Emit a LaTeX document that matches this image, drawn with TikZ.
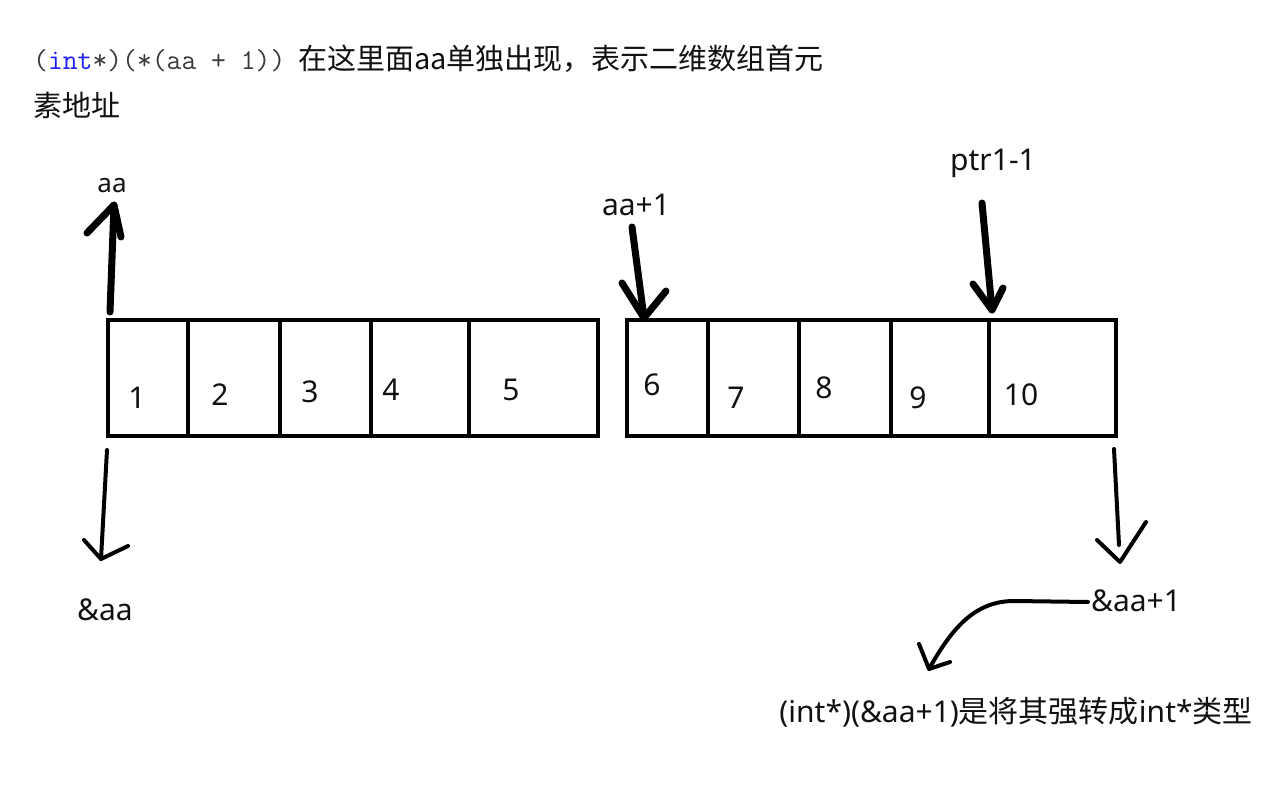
\documentclass[tikz,border=0pt]{standalone}
\usepackage{fontspec}
\setmainfont{Noto Sans}
\newfontfamily\cjk{Noto Sans CJK SC}
\definecolor{codegray}{HTML}{3A3A3A}
\definecolor{codeblue}{HTML}{2020FF}
\definecolor{ink}{HTML}{111111}
\begin{document}
\begin{tikzpicture}[x=1pt,y=-1pt,
  lbl/.style={inner sep=0pt, text=ink, font=\fontsize{30}{34}\selectfont},
  small lbl/.style={inner sep=0pt, text=ink, font=\fontsize{26}{30}\selectfont},
  digit/.style={inner sep=0pt, text=ink, font=\fontsize{30}{34}\selectfont},
  boxline/.style={line width=4.5pt, draw=black},
  thick hand/.style={line width=7pt, draw=black, line cap=round, line join=round},
  thin hand/.style={line width=4pt, draw=black, line cap=round, line join=round}]
\useasboundingbox (0,0) rectangle (1283,794);

% top text
\node[anchor=base west, inner sep=0pt] (code) at (33,70)
  {\ttfamily\fontsize{28.8}{30}\selectfont\color{codegray}(\textcolor{codeblue}{int}*)(*(aa + 1))};
\node[anchor=base west, inner sep=0pt, text=ink] (desc1) at (298,70)
  {\cjk\fontsize{29}{34}\selectfont 在这里面aa单独出现，表示二维数组首元};
\node[anchor=base west, inner sep=0pt, text=ink] (desc2) at (33,117)
  {\cjk\fontsize{29}{34}\selectfont 素地址};

% left array
\draw[boxline] (108,320) rectangle (598,436);
\foreach \x in {188,280,371,469} \draw[boxline] (\x,320) -- (\x,436);
% right array
\draw[boxline] (627,320) rectangle (1116,436);
\foreach \x in {708,799,891,989} \draw[boxline] (\x,320) -- (\x,436);

% digits
\node[digit] (d1) at (137,398) {1};
\node[digit] (d2) at (220,395) {2};
\node[digit] (d3) at (310,392) {3};
\node[digit] (d4) at (391,390) {4};
\node[digit] (d5) at (511,390) {5};
\node[digit] (d6) at (652,385) {6};
\node[digit] (d7) at (736,398) {7};
\node[digit] (d8) at (824,388) {8};
\node[digit] (d9) at (918,398) {9};
\node[digit] (d10) at (1021,395) {10};

% labels
\node[small lbl] (aa) at (112,186) {aa};
\node[lbl] (aa1) at (636,205) {aa+1};
\node[lbl] (ptr) at (993,163) {ptr1-1};
\node[lbl] (amp) at (105,610) {\&aa};
\node[lbl] (amp1) at (1136,601) {\&aa+1};
\node[lbl] (cast) at (1016,712) {(int*)(\&aa+1){\cjk 是将其强转成}int*{\cjk 类型}};

% arrow: aa
\coordinate (aaS) at (110,312);
\coordinate (aaT) at (114,205);
\draw[thick hand] (aaS) -- (aaT);
\draw[thick hand] (87,233) -- (aaT) -- (121,237);
% arrow: aa+1
\coordinate (a1S) at (632,227);
\coordinate (a1T) at (644,318);
\draw[thick hand] (a1S) -- (a1T);
\draw[thick hand] (622,283) -- (a1T) -- (666,291);
% arrow: ptr1-1
\coordinate (pS) at (982,203);
\coordinate (pT) at (992,310);
\draw[thick hand] (pS) -- (pT);
\draw[thick hand] (973,284) -- (pT) -- (1003,288);
% arrow: &aa
\coordinate (amS) at (107,450);
\coordinate (amT) at (101,559);
\draw[thin hand] (amS) -- (amT);
\draw[thin hand] (84,540) -- (amT) -- (128,546);
% arrow: &aa+1 down
\coordinate (am1S) at (1114,449);
\coordinate (am1T) at (1120,562);
\draw[thin hand] (am1S) -- (1119,545);
\draw[thin hand] (1097,540) -- (am1T) -- (1146,522);
% curved arrow
\coordinate (cS) at (1088,602);
\coordinate (cM) at (1014,601);
\coordinate (cT) at (929,669);
\draw[thin hand] (cS) -- (cM) .. controls (975,601) and (952,628) .. (cT);
\draw[thin hand] (919,644) -- (cT) -- (950,662);
\end{tikzpicture}
\end{document}
